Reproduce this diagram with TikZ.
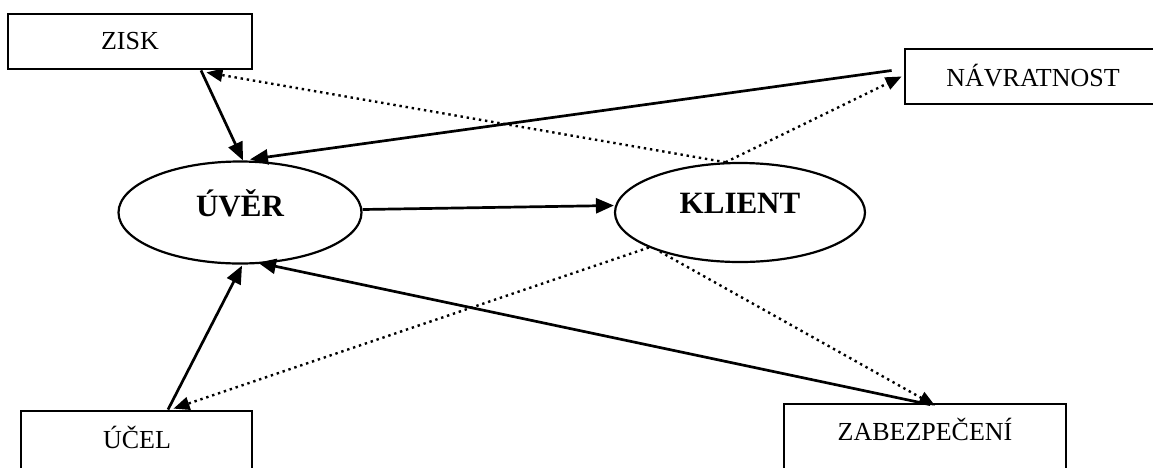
\documentclass[tikz,border=0pt]{standalone}
\usepackage{fontspec}
\setmainfont{Liberation Serif}
\usetikzlibrary{arrows.meta,shapes.geometric,calc}
\begin{document}
\begin{tikzpicture}[x=1pt,y=-1pt,
 boxnode/.style={draw, line width=2.8pt, rectangle, inner sep=0pt},
 ellnode/.style={draw, line width=2.2pt, ellipse, inner sep=0pt},
 boxtext/.style={font=\fontsize{26}{30}\selectfont, inner sep=0pt},
 elltext/.style={font=\fontsize{31}{36}\selectfont\bfseries, inner sep=0pt},
 solidarrow/.style={line width=2.7pt, -{Triangle[length=18pt,width=15pt]}},
 dotarrow/.style={line width=2.4pt, dash pattern=on 2.4pt off 3.8pt, -{Triangle[length=16pt,width=13pt]}},
]
\useasboundingbox (0,0) rectangle (1153,467);
% boxes
\node[boxnode, minimum width=244pt, minimum height=55pt] (zisk) at (130,41.5) {};
\node[boxtext] (ziskt) at (130,41.5) {ZISK};
\node[boxnode, minimum width=256pt, minimum height=55pt] (nav) at (1033,76.5) {};
\node[boxtext] (navt) at (1033,76) {NÁVRATNOST};
\node[boxnode, minimum width=231pt, minimum height=69pt] (ucel) at (136.5,445.5) {};
\node[boxtext] (ucelt) at (137,437) {ÚČEL};
\node[boxnode, minimum width=282pt, minimum height=68pt] (zab) at (925,438) {};
\node[boxtext] (zabt) at (925,429) {ZABEZPEČENÍ};
% ellipses
\node[ellnode, minimum width=243pt, minimum height=102pt] (uver) at (240,212.5) {};
\node[elltext] (uvert) at (240,203) {ÚVĚR};
\node[ellnode, minimum width=250pt, minimum height=99pt] (klient) at (740,212.5) {};
\node[elltext] (klientt) at (740,203) {KLIENT};
% solid connectors
\draw[solidarrow] ($(zisk.south)+(71,0)$) -- ($(uver.north)+(3,0)$);
\draw[solidarrow] ($(nav.west)+(-12,-6)$) -- ($(uver.north)+(10,-1)$);
\draw[solidarrow] ($(uver.east)+(0,-3)$) -- ($(klient.west)+(0,-7)$);
\draw[solidarrow] ($(ucel.north)+(31.5,0)$) -- ($(uver.south)+(2,1)$);
\draw[solidarrow] ($(zab.north)+(5,2)$) -- ($(uver.south)+(18,-2)$);
% dotted connectors
\draw[dotarrow] (klient.106.8) -- ($(zisk.south east)+(-47,2)$);
\draw[dotarrow] (klient.106.8) -- ($(nav.west)+(-2,0)$);
\draw[dotarrow] (klient.201.7) -- ($(ucel.north)+(37,-1)$);
\draw[dotarrow] (klient.206.9) -- ($(zab.north)+(10,3)$);
\end{tikzpicture}
\end{document}
